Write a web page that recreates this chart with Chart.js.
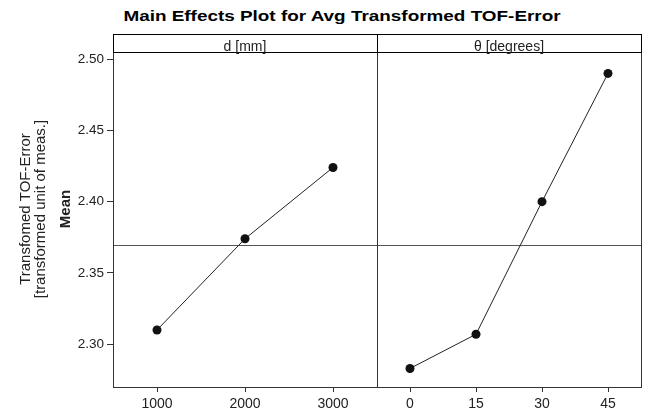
<!DOCTYPE html>
<html>
<head>
<meta charset="utf-8">
<script src="https://cdn.jsdelivr.net/npm/chart.js@4.4.1/dist/chart.umd.min.js"></script>
<style>
  body { margin: 0; background: #fff; }
  #wrap { position: relative; width: 647px; height: 411px; overflow: hidden; }
  #title {
    position: absolute; top: 7px; left: 342px;
    transform: translateX(-50%) scaleX(1.26);
    font: bold 15px "Liberation Sans", Arial, sans-serif;
    color: #000; white-space: nowrap;
  }
  #leftBox { position: absolute; left: 0; top: 0; width: 378px; height: 411px; }
  #rightBox { position: absolute; left: 377px; top: 0; width: 270px; height: 411px; }
</style>
</head>
<body>
<div id="wrap">
  <div id="title">Main Effects Plot for Avg Transformed TOF-Error</div>
  <div id="leftBox"><canvas id="leftChart"></canvas></div>
  <div id="rightBox"><canvas id="rightChart"></canvas></div>
</div>
<script>
// factor levels and means
const dLevels = [1000, 2000, 3000];
const dMeans = [2.310, 2.374, 2.424];
const thetaLevels = [0, 15, 30, 45];
const thetaMeans = [2.283, 2.307, 2.400, 2.490];
const yTicks = [2.30, 2.35, 2.40, 2.45, 2.50];
const panelNames = ['d [mm]', 'θ [degrees]'];
const yLabelLines = ['Transfomed TOF-Error', '[transformed unit of meas.]'];

const grandMean = dMeans.reduce((a, b) => a + b, 0) / dMeans.length;

const FONT = '"Liberation Sans", Arial, sans-serif';
const INK = '#222';
const FRAME = '#333';

// frame, strip with panel name, grand mean line
const panelPlugin = {
  id: 'panel',
  beforeDatasetsDraw(chart) {
    const { ctx, chartArea: a, scales } = chart;
    const y = Math.round(scales.y.getPixelForValue(grandMean)) + 0.5;
    ctx.save();
    ctx.strokeStyle = '#555';
    ctx.lineWidth = 1;
    ctx.beginPath();
    ctx.moveTo(a.left, y);
    ctx.lineTo(a.right, y);
    ctx.stroke();
    ctx.restore();
  },
  afterDraw(chart, args, opts) {
    const { ctx, chartArea: a } = chart;
    const l = Math.round(a.left) + 0.5, r = Math.round(a.right) + 0.5;
    const t = Math.round(a.top) + 0.5, b = Math.round(a.bottom) + 0.5;
    ctx.save();
    ctx.strokeStyle = FRAME;
    ctx.lineWidth = 1;
    ctx.strokeRect(l, t, r - l, b - t);
    ctx.strokeStyle = '#000';
    ctx.strokeRect(l, 34.5, r - l, t - 34.5);
    ctx.fillStyle = INK;
    ctx.font = '14px ' + FONT;
    ctx.textAlign = 'center';
    ctx.textBaseline = 'alphabetic';
    ctx.fillText(opts.name, (a.left + a.right) / 2, 50.5);

    if (opts.yLabels) {
      ctx.translate(0, 209);
      ctx.rotate(-Math.PI / 2);
      ctx.textBaseline = 'middle';
      ctx.font = '15px ' + FONT;
      ctx.fillText(yLabelLines[0], 0, 26);
      ctx.fillText(yLabelLines[1], 0, 41);
      ctx.font = 'bold 15px ' + FONT;
      ctx.fillText('Mean', 0, 66);
    }
    ctx.restore();
  }
};

function makeChart(id, levels, means, xMin, xMax, name, isLeft) {
  return new Chart(document.getElementById(id), {
    type: 'line',
    data: {
      datasets: [{
        data: levels.map((x, i) => ({ x: x, y: means[i] })),
        borderColor: INK,
        borderWidth: 1,
        pointRadius: 4.5,
        pointBackgroundColor: '#111',
        pointBorderWidth: 0,
        tension: 0
      }]
    },
    options: {
      responsive: false,
      animation: false,
      layout: {
        autoPadding: false,
        padding: { left: 0, right: isLeft ? 1 : 6, top: 52, bottom: 0 }
      },
      plugins: {
        legend: { display: false },
        tooltip: { enabled: false },
        panel: { name: name, yLabels: isLeft }
      },
      scales: {
        x: {
          type: 'linear',
          min: xMin,
          max: xMax,
          afterBuildTicks: (s) => { s.ticks = levels.map(v => ({ value: v })); },
          afterFit: (s) => { s.height = 24; },
          border: { display: false },
          grid: { drawOnChartArea: false, tickLength: 5, color: FRAME },
          ticks: {
            color: INK, padding: 4, maxRotation: 0,
            font: { family: FONT, size: 14 },
            callback: (v) => String(v)
          }
        },
        y: {
          display: isLeft,
          min: 2.27,
          max: 2.505,
          afterBuildTicks: (s) => { s.ticks = yTicks.map(v => ({ value: v })); },
          afterFit: (s) => { s.width = isLeft ? 113 : 0; },
          border: { display: false },
          grid: { drawOnChartArea: false, tickLength: 6, color: FRAME },
          ticks: {
            color: INK, padding: 3,
            font: { family: FONT, size: 13.5 },
            callback: (v) => Number(v).toFixed(2)
          }
        }
      }
    },
    plugins: [panelPlugin]
  });
}

const lc = document.getElementById('leftChart');
lc.width = 378; lc.height = 411;
const rc = document.getElementById('rightChart');
rc.width = 270; rc.height = 411;

makeChart('leftChart', dLevels, dMeans, 500, 3500, panelNames[0], true);
makeChart('rightChart', thetaLevels, thetaMeans, -7.5, 52.5, panelNames[1], false);
</script>
</body>
</html>
